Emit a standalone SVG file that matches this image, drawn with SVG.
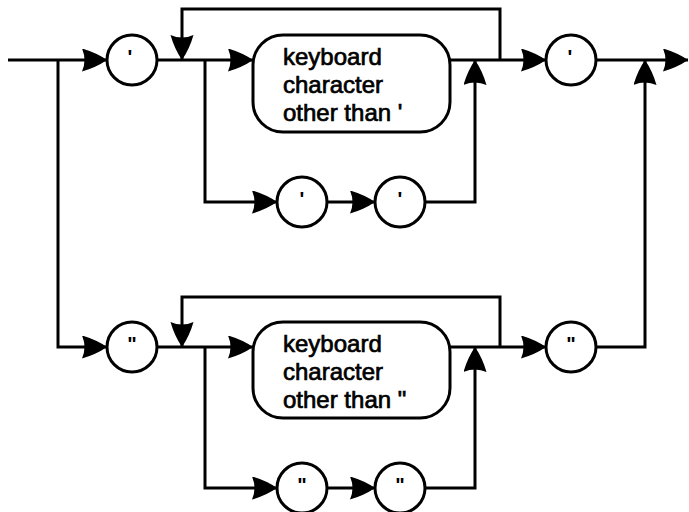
<svg xmlns="http://www.w3.org/2000/svg" width="689" height="512" viewBox="0 0 689 512">
  <style>
    .ln { fill: none; stroke: #000; stroke-width: 3; stroke-linejoin: miter; }
    .arw { marker-end: url(#head); }
    .term { fill: #fff; stroke: #000; stroke-width: 3; }
    .box { fill: #fff; stroke: #000; stroke-width: 3; }
    .lbl { font-family: "Liberation Sans", Arial, sans-serif; font-size: 24px; fill: #000; stroke: #000; stroke-width: 0.7; }
    .q { font-family: "Liberation Sans", Arial, sans-serif; font-size: 20px; font-weight: bold; fill: #000; text-anchor: middle; }
  </style>
  <defs>
    <marker id="head" markerUnits="userSpaceOnUse" markerWidth="26" markerHeight="24" refX="25" refY="11.5" orient="auto">
      <path d="M0,0 Q14,4 25,11.5 Q14,19 0,23 Q5,11.5 0,0 z" fill="#000"/>
    </marker>
  </defs>
  <rect width="689" height="512" fill="#fff"/>

  <g id="connectors">
    <!-- single-quoted string -->
    <path class="ln arw" d="M8,60 H107"/>
    <path class="ln arw" d="M58,60 V347 H107"/>
    <path class="ln arw" d="M157,60 H253"/>
    <path class="ln arw" d="M500,60 V9 H182 V60"/>
    <path class="ln arw" d="M205,60 V202 H277"/>
    <path class="ln arw" d="M327,202 H375"/>
    <path class="ln arw" d="M425,202 H475 V60"/>
    <path class="ln arw" d="M450,60 H546"/>
    <path class="ln arw" d="M596,60 H688"/>
    <!-- double-quoted string -->
    <path class="ln arw" d="M157,347 H253"/>
    <path class="ln arw" d="M500,347 V297 H182 V347"/>
    <path class="ln arw" d="M205,347 V488 H277"/>
    <path class="ln arw" d="M327,488 H375"/>
    <path class="ln arw" d="M425,488 H475 V347"/>
    <path class="ln arw" d="M450,347 H546"/>
    <path class="ln arw" d="M596,347 H645 V60"/>
  </g>

  <g id="sq-open"><circle class="term" cx="132" cy="60" r="25"/><text class="q" x="130" y="64">'</text></g>
  <g id="sq-char"><rect class="box" x="253" y="35" width="197" height="97" rx="30"/>
    <text class="lbl" x="283" y="65">keyboard</text>
    <text class="lbl" x="283" y="93">character</text>
    <text class="lbl" x="283" y="121">other than '</text></g>
  <g id="sq-esc1"><circle class="term" cx="302" cy="202" r="25"/><text class="q" x="302" y="206">'</text></g>
  <g id="sq-esc2"><circle class="term" cx="400" cy="202" r="25"/><text class="q" x="400" y="206">'</text></g>
  <g id="sq-close"><circle class="term" cx="571" cy="60" r="25"/><text class="q" x="570" y="64">'</text></g>

  <g id="dq-open"><circle class="term" cx="132" cy="347" r="25"/><text class="q" x="132" y="351">"</text></g>
  <g id="dq-char"><rect class="box" x="253" y="322" width="197" height="96" rx="30"/>
    <text class="lbl" x="283" y="352">keyboard</text>
    <text class="lbl" x="283" y="380">character</text>
    <text class="lbl" x="283" y="408">other than "</text></g>
  <g id="dq-esc1"><circle class="term" cx="302" cy="488" r="25"/><text class="q" x="302" y="492">"</text></g>
  <g id="dq-esc2"><circle class="term" cx="400" cy="488" r="25"/><text class="q" x="400" y="492">"</text></g>
  <g id="dq-close"><circle class="term" cx="571" cy="347" r="25"/><text class="q" x="571" y="351">"</text></g>
</svg>
